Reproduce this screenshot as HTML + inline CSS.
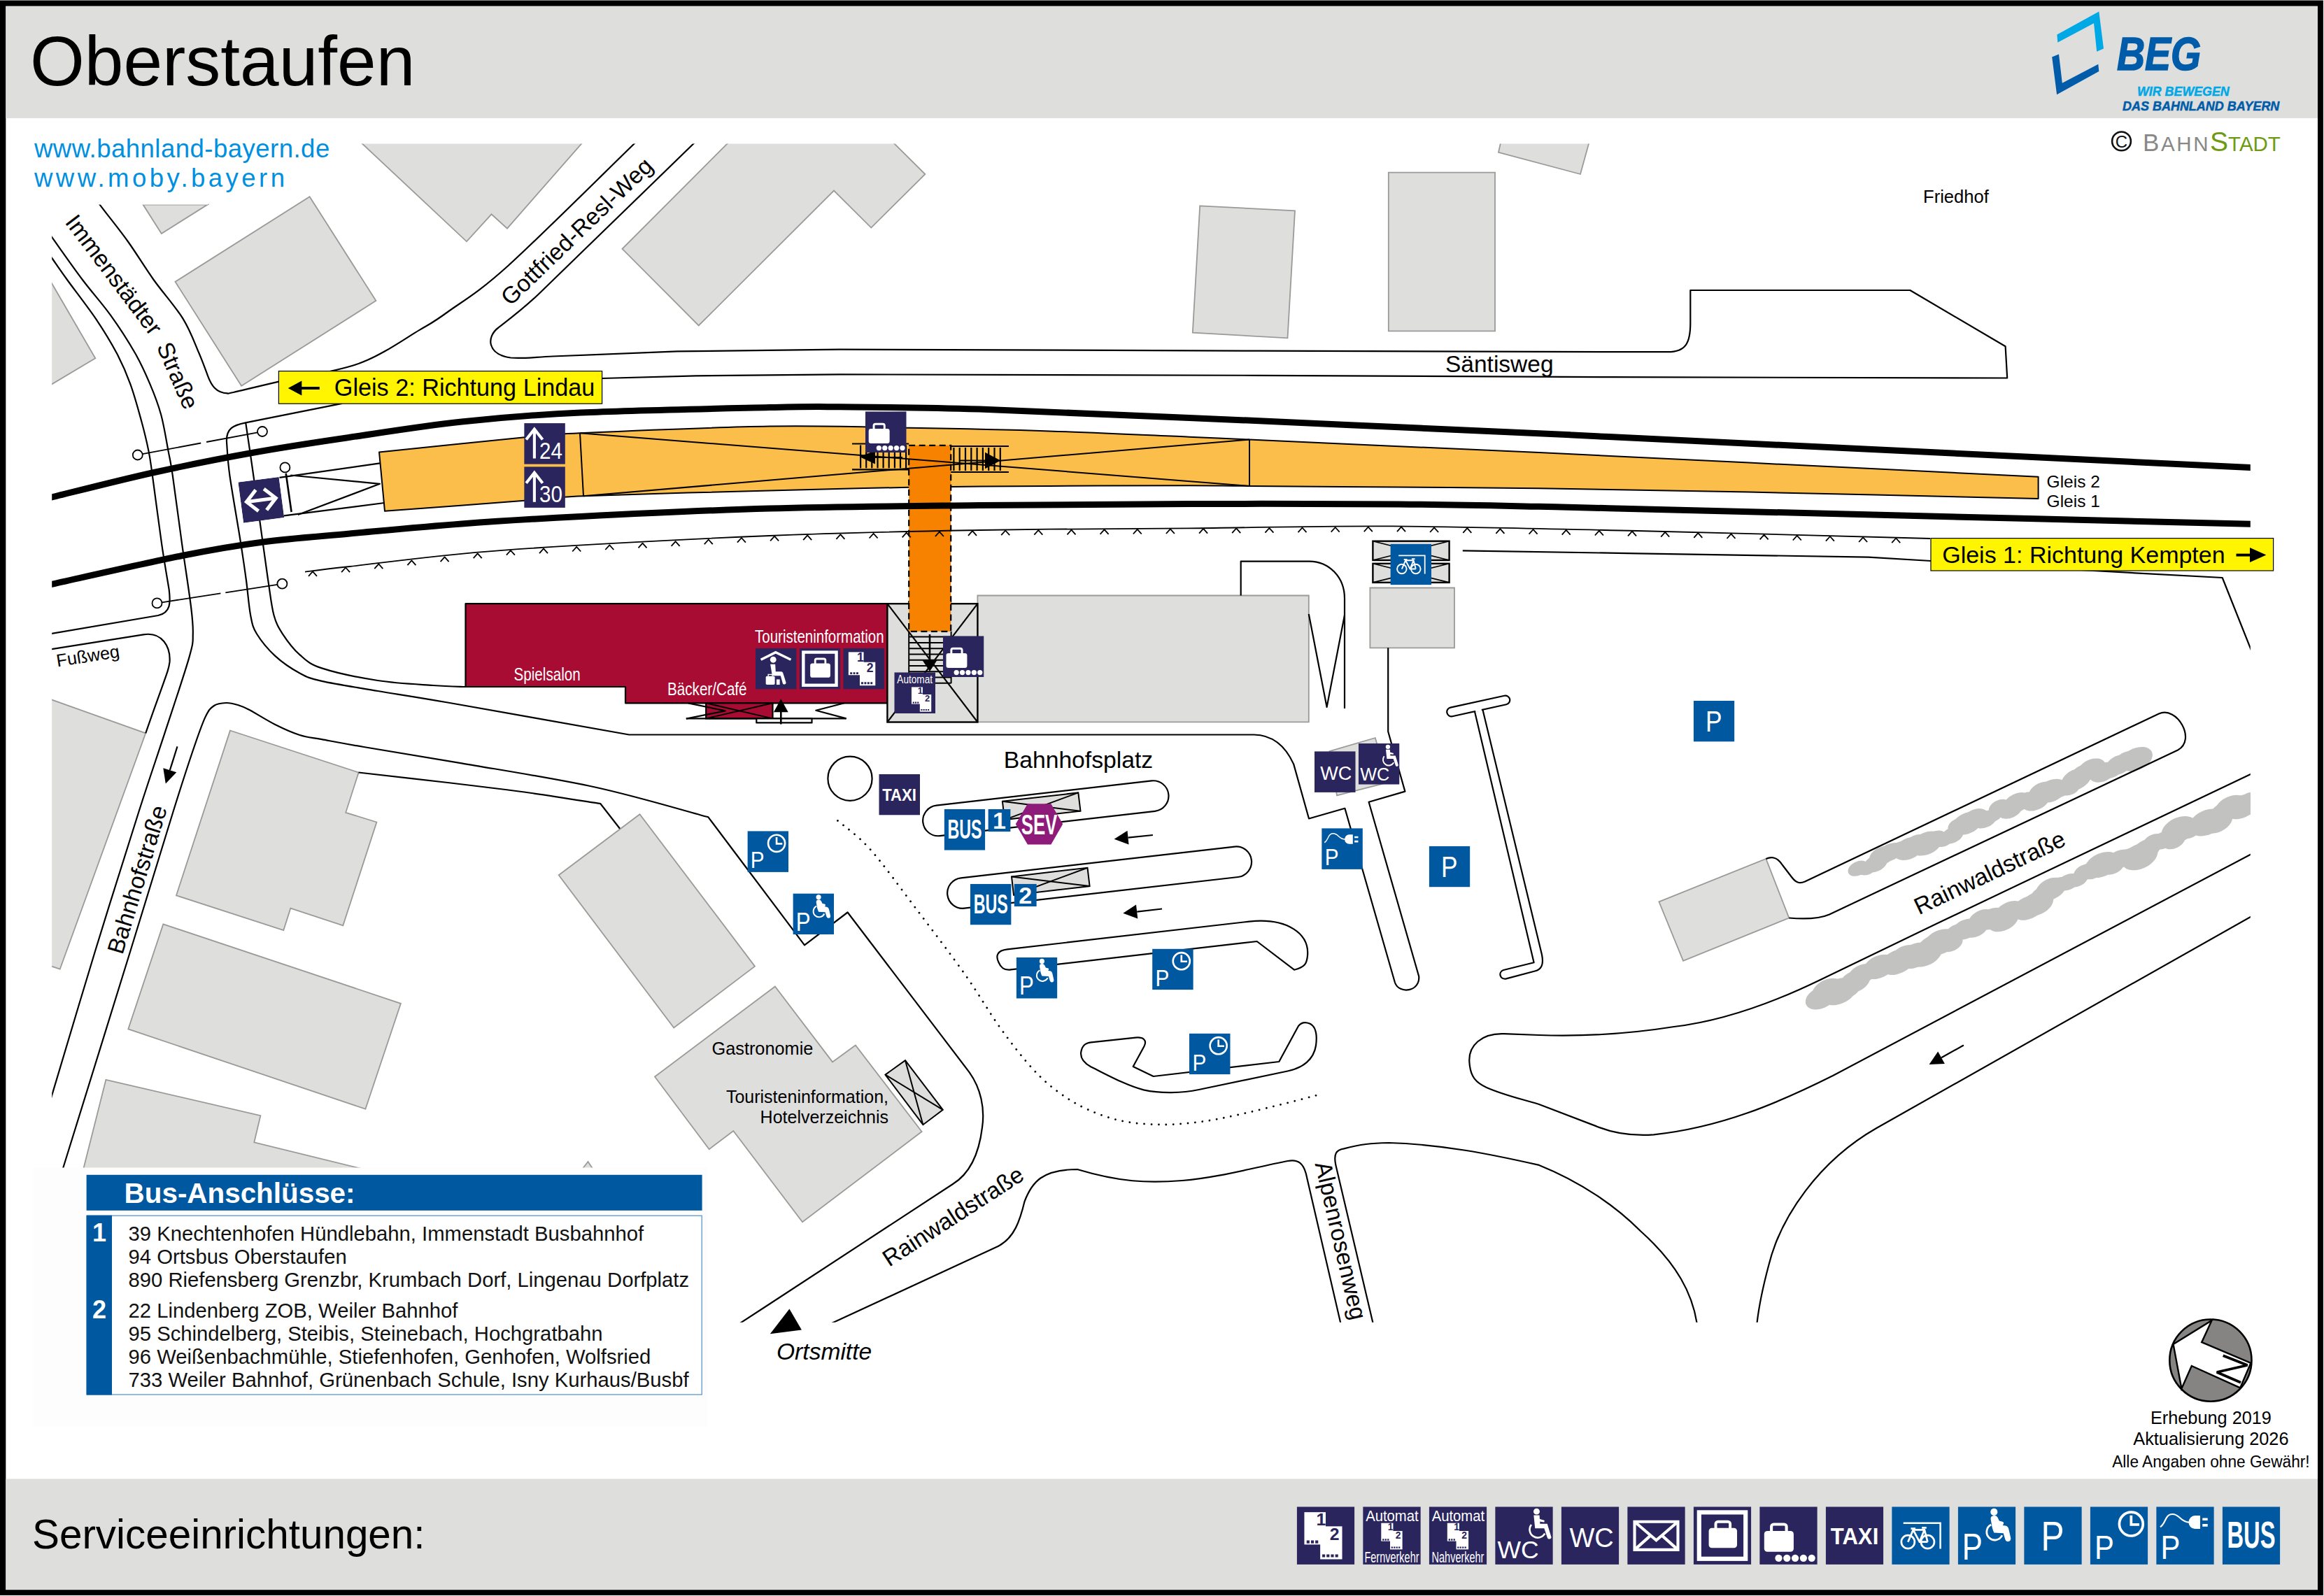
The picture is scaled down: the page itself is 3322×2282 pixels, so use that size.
<!DOCTYPE html>
<html><head><meta charset="utf-8"><title>Oberstaufen</title>
<style>
html,body{margin:0;padding:0;background:#fff;}
body{width:3322px;height:2282px;overflow:hidden;}
svg{display:block;font-family:"Liberation Sans",sans-serif;}
.ln{fill:none;stroke:#000;stroke-width:2.2;stroke-linejoin:round;stroke-linecap:butt}
.b{fill:#dededd;stroke:#9a9a98;stroke-width:1.8;stroke-linejoin:miter}
.bk{fill:#dededd;stroke:#000;stroke-width:2}
.tr{fill:none;stroke:#000;stroke-width:9}
.t{fill:#000}
.w{fill:#fff}
</style></head><body>
<svg width="3322" height="2282" viewBox="0 0 3322 2282">
<!-- defs -->
<defs>
<g id="case"><rect x="0" y="14" width="51" height="36" rx="5.5" fill="#fff"/><path d="M12.5,15 v-8.5 a4,4 0 0 1 4,-4 h18 a4,4 0 0 1 4,4 v8.5" fill="none" stroke="#fff" stroke-width="5"/></g>
<g id="wheel" fill="#fff"><circle cx="13.75" cy="5.3" r="5.4"/><path d="M8.75,11.9 h10 l0.95,14.700 h12.500 l6.8,22.4 q0.8,3 -2.4,3.9 q-3.2,0.8 -4.2,-2.100 l-5.500,-16.4 h-15.8 z"/><path d="M18.75,18.1 l8.750,2.800 l-0.6,3.100 l-8.150,-1.200 z"/><path d="M4.7,28.1 A14,14 0 1 0 28,43.500" fill="none" stroke="#fff" stroke-width="3.2"/></g>
<g id="wheelB" fill="#fff"><circle cx="62.5" cy="9.2" r="6.1"/><path d="M57.5,17.5 Q61,14.5 66.500,16 Q70,19 71.5,24.5 L78,26.3 Q80,27.5 79,30 L77.5,32.3 L82.5,33 Q86.500,33.8 87.8,38.5 L91.5,54.500 Q91.8,59.500 87.5,60.300 Q83.500,60.800 81.800,56.5 L78.7,45.800 L62.500,45 Q60.500,41 59.300,36 L57,23 Q56.300,20 57.5,17.5 Z"/><path d="M57.5,31.2 A14,14 0 1 0 76.5,49.600" fill="none" stroke="#fff" stroke-width="3.4"/></g>
<g id="tix"><rect x="0" y="0" width="37" height="56" fill="#fff"/><rect x="27.5" y="24.5" width="38" height="57" fill="#fff"/>
<text x="29" y="22.5" font-size="30" font-weight="bold" fill="#2b255d" text-anchor="middle">1</text><text x="52.3" y="48.3" font-size="30" font-weight="bold" fill="#2b255d" text-anchor="middle">2</text>
<path d="M4,49 h5 v5 h-5z M11.5,49 h5 v5 h-5z M19,49 h5 v5 h-5z M31,73 h5 v5 h-5z M38.5,73 h5 v5 h-5z M46,73 h5 v5 h-5z M53.500,73 h5 v5 h-5z" fill="#2b255d"/></g>
<symbol id="s-up" viewBox="0 0 100 100"><rect width="100" height="100" fill="#2b255d"/><path d="M25,86 V17 M5,40 L25,14.500 L45,40" fill="none" stroke="#fff" stroke-width="7"/></symbol>
<symbol id="s-dbl" viewBox="0 0 100 100"><rect width="100" height="100" fill="#2b255d"/><path d="M16,50 H84 M40,24 L14,50 L40,76 M60,24 L86,50 L60,76" fill="none" stroke="#fff" stroke-width="8.5"/></symbol>
<symbol id="s-belt" viewBox="0 0 100 100"><rect width="100" height="100" fill="#2b255d"/><use href="#case" x="8" y="28"/><g fill="#fff"><circle cx="33" cy="89" r="6.2"/><circle cx="47.3" cy="89" r="6.2"/><circle cx="61.6" cy="89" r="6.2"/><circle cx="75.9" cy="89" r="6.2"/><circle cx="90.2" cy="89" r="6.2"/></g></symbol>
<symbol id="s-locker" viewBox="0 0 100 100"><rect width="100" height="100" fill="#2b255d"/><rect x="9.8" y="9.800" width="80.4" height="80.4" fill="none" stroke="#fff" stroke-width="7.5"/><g transform="translate(26.5,23.5) scale(0.96)"><use href="#case"/></g></symbol>
<symbol id="s-tix" viewBox="0 0 100 100"><rect width="100" height="100" fill="#2b255d"/><use href="#tix" x="13" y="9.500"/></symbol>
<symbol id="s-auto" viewBox="0 0 100 100"><rect width="100" height="100" fill="#2b255d"/><text x="50" y="27.5" font-size="29" fill="#fff" text-anchor="middle" transform="translate(50,0) scale(0.8,1) translate(-50,0)">Automat</text><g transform="translate(42,36) scale(0.735)"><use href="#tix"/></g></symbol>
<symbol id="s-autoF" viewBox="0 0 100 100"><rect width="100" height="100" fill="#2b255d"/><text x="50.5" y="25" font-size="26" fill="#fff" text-anchor="middle" transform="translate(50,0) scale(0.945,1) translate(-50,0)">Automat</text><g transform="translate(31.6,28.3) scale(0.56)"><use href="#tix"/></g><text x="50" y="97" font-size="26" fill="#fff" text-anchor="middle" transform="translate(50,0) scale(0.675,1) translate(-50,0)">Fernverkehr</text></symbol>
<symbol id="s-autoN" viewBox="0 0 100 100"><rect width="100" height="100" fill="#2b255d"/><text x="50.5" y="25" font-size="26" fill="#fff" text-anchor="middle" transform="translate(50,0) scale(0.945,1) translate(-50,0)">Automat</text><g transform="translate(31.6,28.3) scale(0.56)"><use href="#tix"/></g><text x="50" y="97" font-size="26" fill="#fff" text-anchor="middle" transform="translate(50,0) scale(0.675,1) translate(-50,0)">Nahverkehr</text></symbol>
<symbol id="s-wc" viewBox="0 0 100 100"><rect width="100" height="100" fill="#2b255d"/><text x="52.5" y="69.5" font-size="46" fill="#fff" text-anchor="middle">WC</text></symbol>
<symbol id="s-wcw" viewBox="0 0 100 100"><rect width="100" height="100" fill="#2b255d"/><text x="4" y="89.5" font-size="43" fill="#fff">WC</text><g transform="translate(58,3)"><use href="#wheel"/></g></symbol>
<symbol id="s-mail" viewBox="0 0 100 100"><rect width="100" height="100" fill="#2b255d"/><path d="M12.500,26 H87.5 V74.500 H12.5 Z M12.5,26 L50,58 L87.5,26 M12.5,74.5 L40,50 M87.5,74.5 L60,50" fill="none" stroke="#fff" stroke-width="5"/></symbol>
<symbol id="s-taxi" viewBox="0 0 100 100"><rect width="100" height="100" fill="#2b255d"/><text x="50" y="65.5" font-size="41" font-weight="bold" fill="#fff" text-anchor="middle" transform="translate(50,0) scale(0.92,1) translate(-50,0)">TAXI</text></symbol>
<symbol id="s-bus" viewBox="0 0 100 100"><rect width="100" height="100" fill="#0058a1"/><text x="50" y="71.5" font-size="65" font-weight="bold" fill="#fff" text-anchor="middle" transform="translate(50,0) scale(0.61,1) translate(-50,0)">BUS</text></symbol>
<symbol id="s-p" viewBox="0 0 100 100"><rect width="100" height="100" fill="#0058a1"/><text x="50" y="75.8" font-size="71.5" fill="#fff" text-anchor="middle" transform="translate(49.5,0) scale(0.84,1) translate(-50,0)">P</text></symbol>
<symbol id="s-pclock" viewBox="0 0 100 100"><rect width="100" height="100" fill="#0058a1"/><text font-size="57.500" fill="#fff" transform="translate(7.6,90.800) scale(0.88,1)">P</text><circle cx="71" cy="30" r="20.500" fill="none" stroke="#fff" stroke-width="4.5"/><path d="M71,15 V31 H85" fill="none" stroke="#fff" stroke-width="4.5"/></symbol>
<symbol id="s-pwheel" viewBox="0 0 100 100"><rect width="100" height="100" fill="#0058a1"/><text font-size="64" fill="#fff" transform="translate(7.3,91.100) scale(0.83,1)">P</text><use href="#wheelB"/></symbol>
<symbol id="s-pcharge" viewBox="0 0 100 100"><rect width="100" height="100" fill="#0058a1"/><text font-size="57.500" fill="#fff" transform="translate(7.6,90.800) scale(0.88,1)">P</text><path d="M7,35 C17,29 15,13 28,13 C41,13 42,27 57,27" fill="none" stroke="#fff" stroke-width="2.6"/><path d="M56,27 a11,11.500 0 0 1 11,-11.5 h9 v23 h-9 a11,11.5 0 0 1 -11,-11.5z M80,19.500 h9 v4.500 h-9z M80,30 h9 v4.5 h-9z" fill="#fff"/></symbol>
<symbol id="s-bike" viewBox="0 0 100 100"><rect width="100" height="100" fill="#0058a1"/><path d="M20,28.500 H84 V73" fill="none" stroke="#fff" stroke-width="3"/><g fill="none" stroke="#fff" stroke-width="3.300"><circle cx="28" cy="61" r="11.500"/><circle cx="62" cy="61" r="11.500"/><path d="M28,61 L37,40 H56.500 L62,61 M37,40 L48,61 H62 M48,61 L56.5,40 M33,38 H41 M52,36.500 H60"/></g></symbol>
<symbol id="s-wait" viewBox="0 0 100 100"><rect width="100" height="100" fill="#2b255d"/><path d="M13,28 L49,10 L86,28" fill="none" stroke="#fff" stroke-width="6"/><g fill="#fff"><circle cx="43" cy="28" r="7.500"/><path d="M36,39 h12 l1,18 h13 q4,0 5,4 l7,22 q1,4 -3,5 q-4,1 -5,-3 l-5,-18 h-17 q-4,0 -4,-4 z"/><rect x="25" y="68" width="22" height="21" rx="3"/><path d="M31,68 v-4 h10 v4" fill="none" stroke="#fff" stroke-width="2.5"/><rect x="51" y="76" width="8" height="13"/></g></symbol>
<symbol id="s-n" viewBox="0 0 100 100"><rect width="100" height="100" fill="#0058a1"/></symbol>
</defs>

<!-- frame -->
<rect x="0" y="0" width="3322" height="2282" fill="#000"/>
<rect x="0" y="0" width="3322" height="1" fill="#8a8a8a"/>
<rect x="3320.9" y="0" width="1.1" height="2282" fill="#f0f0f0"/>
<rect x="0" y="2280.9" width="3322" height="1.1" fill="#f0f0f0"/>
<rect x="8.3" y="8.8" width="3304.7" height="2264.3" fill="#fff"/>
<rect x="8.3" y="8.8" width="3304.7" height="160.2" fill="#dededd"/>
<rect x="8.3" y="2114.5" width="3304.7" height="158.6" fill="#dededd"/>
<text x="43" y="122" font-size="100" class="t">Oberstaufen</text>
<text x="46" y="2214" font-size="58.4" class="t">Serviceeinrichtungen:</text>

<!-- map -->
<defs><clipPath id="mapclip"><rect x="74.2" y="205.5" width="3142.6" height="1685.3"/></clipPath></defs>
<g clip-path="url(#mapclip)">
<polygon class="b" points="204.5,292.6 296.6,292.6 230.8,334.0" />
<polygon class="b" points="60.0,381.0 136.3,512.3 60.0,557.7" />
<polygon class="b" points="442.6,281.3 537.4,430.0 345.1,551.8 250.5,402.8" />
<polygon class="b" points="512.0,200.0 667.0,345.3 702.5,306.3 725.0,326.6 836.0,200.0" />
<polygon class="b" points="1045.0,200.0 889.5,355.8 998.7,465.5 1192.0,272.5 1245.3,325.6 1322.4,249.0 1273.0,200.0" />
<polygon class="b" points="1715.2,294.3 1851.0,301.4 1840.5,483.3 1704.8,475.7" />
<polygon class="b" points="1984.8,246.7 2137.0,246.7 2137.0,473.3 1984.8,473.3" />
<polygon class="b" points="2146.0,200.0 2142.0,217.8 2259.0,249.0 2272.5,200.0" />
<polygon class="b" points="60.0,995.5 208.2,1048.4 85.7,1385.7 60.0,1377.0" />
<polygon class="b" points="329.0,1044.5 512.6,1104.5 494.2,1161.8 538.4,1175.5 490.3,1323.4 415.3,1298.7 405.3,1330.0 252.0,1280.3" />
<polygon class="b" points="233.3,1321.4 572.9,1434.8 522.4,1585.7 183.3,1471.4" />
<polygon class="b" points="151.4,1543.8 372.4,1595.2 363.3,1633.3 545.0,1678.0 545.0,1700.0 112.0,1700.0" />
<polygon class="b" points="840.5,1661.0 860.0,1690.0 818.0,1690.0" />
<polygon class="b" points="914.5,1164.2 798.7,1251.3 963.2,1469.5 1079.0,1381.6" />
<polygon class="b" points="1107.9,1410.5 1190.0,1518.4 1222.9,1494.5 1317.6,1618.0 1147.0,1747.3 1048.3,1617.0 1013.7,1643.2 936.0,1539.5" />
<polygon class="b" points="2371.4,1289.3 2524.4,1228.0 2557.3,1312.5 2406.0,1373.8" />
<polygon class="b" points="1397.4,851.5 1870.8,851.5 1870.8,1032.3 1397.4,1032.3" />
<polygon class="b" points="1958.4,840.5 2079.0,840.5 2079.0,926.3 1958.4,926.3" />
<polygon class="b" points="1900.5,1074.2 1965.8,1055.0 1984.5,1118.5 1911.0,1137.4" />
<g fill="#c2c2c0"><ellipse cx="2656.1" cy="1241.7" rx="15.4" ry="9.9" transform="rotate(-25 2656.1 1241.7)"/><ellipse cx="2669.8" cy="1241.0" rx="14.6" ry="9.3" transform="rotate(-25 2669.8 1241.0)"/><ellipse cx="2681.1" cy="1234.6" rx="17.9" ry="11.4" transform="rotate(-25 2681.1 1234.6)"/><ellipse cx="2690.5" cy="1223.5" rx="19.5" ry="12.5" transform="rotate(-25 2690.5 1223.5)"/><ellipse cx="2702.4" cy="1218.3" rx="18.6" ry="11.9" transform="rotate(-25 2702.4 1218.3)"/><ellipse cx="2714.6" cy="1213.7" rx="14.8" ry="9.5" transform="rotate(-25 2714.6 1213.7)"/><ellipse cx="2728.4" cy="1213.4" rx="23.1" ry="14.8" transform="rotate(-25 2728.4 1213.4)"/><ellipse cx="2738.8" cy="1204.6" rx="16.3" ry="10.4" transform="rotate(-25 2738.8 1204.6)"/><ellipse cx="2753.4" cy="1206.1" rx="24.4" ry="15.6" transform="rotate(-25 2753.4 1206.1)"/><ellipse cx="2765.1" cy="1200.5" rx="18.2" ry="11.7" transform="rotate(-25 2765.1 1200.5)"/><ellipse cx="2779.2" cy="1200.8" rx="14.3" ry="9.1" transform="rotate(-25 2779.2 1200.8)"/><ellipse cx="2790.6" cy="1194.3" rx="17.0" ry="10.9" transform="rotate(-25 2790.6 1194.3)"/><ellipse cx="2798.7" cy="1180.1" rx="15.1" ry="9.6" transform="rotate(-25 2798.7 1180.1)"/><ellipse cx="2811.6" cy="1177.3" rx="22.9" ry="14.7" transform="rotate(-25 2811.6 1177.3)"/><ellipse cx="2822.9" cy="1170.7" rx="20.3" ry="13.0" transform="rotate(-25 2822.9 1170.7)"/><ellipse cx="2837.3" cy="1171.7" rx="17.9" ry="11.5" transform="rotate(-25 2837.3 1171.7)"/><ellipse cx="2848.8" cy="1165.6" rx="14.5" ry="9.3" transform="rotate(-25 2848.8 1165.6)"/><ellipse cx="2858.1" cy="1154.3" rx="16.1" ry="10.3" transform="rotate(-25 2858.1 1154.3)"/><ellipse cx="2873.4" cy="1157.4" rx="18.6" ry="11.9" transform="rotate(-25 2873.4 1157.4)"/><ellipse cx="2883.4" cy="1147.7" rx="20.3" ry="13.0" transform="rotate(-25 2883.4 1147.7)"/><ellipse cx="2896.1" cy="1144.6" rx="17.1" ry="11.0" transform="rotate(-25 2896.1 1144.6)"/><ellipse cx="2909.9" cy="1144.1" rx="21.6" ry="13.8" transform="rotate(-25 2909.9 1144.1)"/><ellipse cx="2919.0" cy="1132.0" rx="20.2" ry="12.9" transform="rotate(-25 2919.0 1132.0)"/><ellipse cx="2932.4" cy="1130.7" rx="23.6" ry="15.1" transform="rotate(-25 2932.4 1130.7)"/><ellipse cx="2945.5" cy="1128.4" rx="17.0" ry="10.9" transform="rotate(-25 2945.5 1128.4)"/><ellipse cx="2958.8" cy="1126.7" rx="15.1" ry="9.7" transform="rotate(-25 2958.8 1126.7)"/><ellipse cx="2967.8" cy="1114.5" rx="22.3" ry="14.3" transform="rotate(-25 2967.8 1114.5)"/><ellipse cx="2978.3" cy="1106.1" rx="19.3" ry="12.3" transform="rotate(-25 2978.3 1106.1)"/><ellipse cx="2989.7" cy="1099.7" rx="21.3" ry="13.6" transform="rotate(-25 2989.7 1099.7)"/><ellipse cx="3005.5" cy="1104.2" rx="20.2" ry="12.9" transform="rotate(-25 3005.5 1104.2)"/><ellipse cx="3018.1" cy="1100.7" rx="17.3" ry="11.1" transform="rotate(-25 3018.1 1100.7)"/><ellipse cx="3029.1" cy="1093.4" rx="20.4" ry="13.1" transform="rotate(-25 3029.1 1093.4)"/><ellipse cx="3040.5" cy="1087.0" rx="18.9" ry="12.1" transform="rotate(-25 3040.5 1087.0)"/><ellipse cx="3053.8" cy="1085.4" rx="24.4" ry="15.6" transform="rotate(-25 3053.8 1085.4)"/></g>
<g fill="#c2c2c0"><ellipse cx="2602.8" cy="1426.7" rx="23.3" ry="14.9" transform="rotate(-25 2602.8 1426.7)"/><ellipse cx="2612.7" cy="1415.8" rx="23.8" ry="15.2" transform="rotate(-25 2612.7 1415.8)"/><ellipse cx="2628.4" cy="1417.7" rx="27.4" ry="17.5" transform="rotate(-25 2628.4 1417.7)"/><ellipse cx="2641.6" cy="1414.3" rx="18.6" ry="11.9" transform="rotate(-25 2641.6 1414.3)"/><ellipse cx="2651.4" cy="1403.2" rx="23.4" ry="14.9" transform="rotate(-25 2651.4 1403.2)"/><ellipse cx="2661.5" cy="1393.0" rx="20.8" ry="13.3" transform="rotate(-25 2661.5 1393.0)"/><ellipse cx="2674.6" cy="1389.2" rx="16.5" ry="10.5" transform="rotate(-25 2674.6 1389.2)"/><ellipse cx="2686.2" cy="1382.3" rx="24.6" ry="15.7" transform="rotate(-25 2686.2 1382.3)"/><ellipse cx="2698.9" cy="1377.6" rx="18.1" ry="11.6" transform="rotate(-25 2698.9 1377.6)"/><ellipse cx="2712.7" cy="1375.3" rx="25.9" ry="16.6" transform="rotate(-25 2712.7 1375.3)"/><ellipse cx="2723.1" cy="1365.8" rx="20.6" ry="13.2" transform="rotate(-25 2723.1 1365.8)"/><ellipse cx="2738.1" cy="1366.2" rx="26.0" ry="16.7" transform="rotate(-25 2738.1 1366.2)"/><ellipse cx="2751.9" cy="1364.0" rx="25.8" ry="16.5" transform="rotate(-25 2751.9 1364.0)"/><ellipse cx="2761.0" cy="1351.5" rx="20.2" ry="12.9" transform="rotate(-25 2761.0 1351.5)"/><ellipse cx="2773.7" cy="1347.0" rx="26.1" ry="16.7" transform="rotate(-25 2773.7 1347.0)"/><ellipse cx="2789.5" cy="1349.0" rx="16.9" ry="10.8" transform="rotate(-25 2789.5 1349.0)"/><ellipse cx="2797.2" cy="1333.5" rx="17.9" ry="11.5" transform="rotate(-25 2797.2 1333.5)"/><ellipse cx="2809.8" cy="1328.6" rx="21.1" ry="13.5" transform="rotate(-25 2809.8 1328.6)"/><ellipse cx="2824.1" cy="1327.5" rx="18.3" ry="11.7" transform="rotate(-25 2824.1 1327.5)"/><ellipse cx="2833.0" cy="1314.5" rx="20.2" ry="13.0" transform="rotate(-25 2833.0 1314.5)"/><ellipse cx="2847.3" cy="1313.6" rx="22.1" ry="14.1" transform="rotate(-25 2847.3 1313.6)"/><ellipse cx="2863.0" cy="1315.4" rx="23.6" ry="15.1" transform="rotate(-25 2863.0 1315.4)"/><ellipse cx="2872.7" cy="1304.3" rx="22.7" ry="14.5" transform="rotate(-25 2872.7 1304.3)"/><ellipse cx="2885.9" cy="1300.7" rx="15.7" ry="10.0" transform="rotate(-25 2885.9 1300.7)"/><ellipse cx="2899.4" cy="1298.0" rx="24.7" ry="15.8" transform="rotate(-25 2899.4 1298.0)"/><ellipse cx="2911.5" cy="1292.1" rx="25.0" ry="16.0" transform="rotate(-25 2911.5 1292.1)"/><ellipse cx="2921.0" cy="1280.3" rx="20.0" ry="12.8" transform="rotate(-25 2921.0 1280.3)"/><ellipse cx="2931.6" cy="1271.1" rx="22.9" ry="14.7" transform="rotate(-25 2931.6 1271.1)"/><ellipse cx="2943.6" cy="1265.0" rx="15.8" ry="10.1" transform="rotate(-25 2943.6 1265.0)"/><ellipse cx="2956.7" cy="1261.2" rx="17.0" ry="10.9" transform="rotate(-25 2956.7 1261.2)"/><ellipse cx="2969.7" cy="1257.3" rx="15.7" ry="10.0" transform="rotate(-25 2969.7 1257.3)"/><ellipse cx="2980.0" cy="1247.4" rx="16.9" ry="10.8" transform="rotate(-25 2980.0 1247.4)"/><ellipse cx="2992.8" cy="1243.1" rx="19.5" ry="12.5" transform="rotate(-25 2992.8 1243.1)"/><ellipse cx="3004.7" cy="1236.5" rx="25.9" ry="16.6" transform="rotate(-25 3004.7 1236.5)"/><ellipse cx="3020.3" cy="1238.5" rx="16.9" ry="10.8" transform="rotate(-25 3020.3 1238.5)"/><ellipse cx="3030.5" cy="1228.3" rx="19.3" ry="12.4" transform="rotate(-25 3030.5 1228.3)"/><ellipse cx="3043.4" cy="1224.1" rx="16.5" ry="10.6" transform="rotate(-25 3043.4 1224.1)"/><ellipse cx="3058.5" cy="1224.7" rx="27.4" ry="17.5" transform="rotate(-25 3058.5 1224.7)"/><ellipse cx="3068.5" cy="1214.2" rx="21.0" ry="13.5" transform="rotate(-25 3068.5 1214.2)"/><ellipse cx="3078.5" cy="1203.8" rx="16.3" ry="10.4" transform="rotate(-25 3078.5 1203.8)"/><ellipse cx="3092.3" cy="1201.5" rx="18.3" ry="11.7" transform="rotate(-25 3092.3 1201.5)"/><ellipse cx="3107.4" cy="1202.1" rx="17.0" ry="10.9" transform="rotate(-25 3107.4 1202.1)"/><ellipse cx="3114.9" cy="1186.2" rx="26.9" ry="17.2" transform="rotate(-25 3114.9 1186.2)"/><ellipse cx="3130.1" cy="1187.1" rx="16.8" ry="10.8" transform="rotate(-25 3130.1 1187.1)"/><ellipse cx="3142.5" cy="1181.7" rx="15.3" ry="9.8" transform="rotate(-25 3142.5 1181.7)"/><ellipse cx="3154.6" cy="1175.9" rx="27.2" ry="17.4" transform="rotate(-25 3154.6 1175.9)"/><ellipse cx="3168.8" cy="1174.6" rx="23.7" ry="15.2" transform="rotate(-25 3168.8 1174.6)"/><ellipse cx="3177.6" cy="1161.3" rx="19.6" ry="12.5" transform="rotate(-25 3177.6 1161.3)"/><ellipse cx="3189.3" cy="1154.5" rx="24.6" ry="15.8" transform="rotate(-25 3189.3 1154.5)"/><ellipse cx="3203.7" cy="1153.6" rx="24.7" ry="15.8" transform="rotate(-25 3203.7 1153.6)"/><ellipse cx="3214.8" cy="1145.4" rx="17.8" ry="11.4" transform="rotate(-25 3214.8 1145.4)"/><ellipse cx="3229.8" cy="1146.0" rx="27.3" ry="17.5" transform="rotate(-25 3229.8 1146.0)"/></g>
<path class="ln" d="M104.0,240.0 C110.4,248.8 129.4,275.0 142.6,292.6 C155.8,310.2 170.2,327.6 183.0,345.5 C195.8,363.4 206.5,381.6 219.6,400.0 C232.7,418.4 251.0,438.6 261.8,456.1 C272.6,473.7 278.8,491.9 284.6,505.3 C290.4,518.8 294.8,531.5 296.8,536.8 C302,551 309,562 325,562.3  C326.4,562.1 321.4,563.8 333.7,561.0 C346.0,558.2 368.6,552.5 398.6,545.6 C428.6,538.7 480.1,531.8 513.7,519.5 C547.3,507.2 579.0,483.9 600.0,471.6 C621.0,459.4 619.0,461.3 640.0,446.0 C661.0,430.7 681.9,420.1 726.3,380.0 C770.7,339.9 872.6,238.3 906.6,205.5 C940.6,172.7 926.1,186.8 930.0,183.0" />
<path class="ln" d="M1015,183 L991.3,205.5 L768.4,422 C745,444 722,461 713,468 C694,482 697,507 730,511.5 C745,513 760,511 790,509.5 L968.4,502.4 L1200,499.6 L1800,501.6 L2300,503.2 L2384,503.2 C2410,503 2416.3,490 2416.3,462 L2416.3,415 L2730.3,415 L2866.6,495.3 L2869.2,540.5 L2300,539.2 L1800,536.8 L1200,535.3 L994.7,537.4 L860.5,541" />
<path class="ln" d="M60.0,349.0 C62.4,352.3 68.2,360.5 74.2,369.0 C80.2,377.5 85.5,385.5 96.0,400.0 C106.5,414.5 125.4,438.6 137.2,456.1 C149.0,473.7 158.8,489.8 167.0,505.3 C175.2,520.8 180.5,533.0 186.3,549.1 C192.2,565.2 197.7,585.7 202.1,601.8 C206.5,617.9 210.0,632.6 212.6,645.6 C215.2,658.6 214.8,658.1 217.9,680.0 C221.0,701.9 227.1,749.7 231.0,776.8 C234.9,803.9 239.8,831.6 241.6,842.6 C244,862 244,876 226,880 L74,905.8 L60,908" />
<path class="ln" d="M60.0,319.0 C62.4,322.4 64.5,325.7 74.2,339.2 C83.9,352.7 103.9,381.4 117.9,400.0 C131.9,418.6 145.6,433.3 158.2,450.9 C170.8,468.4 183.9,488.9 193.3,505.3 C202.7,521.7 208.2,534.5 214.4,549.1 C220.6,563.7 225.8,576.9 230.2,593.0 C234.6,609.1 237.9,631.1 240.7,645.6 C243.5,660.1 243.6,658.1 246.8,680.0 C250.0,701.9 255.6,745.3 260.0,776.8 C264.4,808.3 270.6,847.4 273.2,869.0 C275.8,890.6 276.2,894.5 275.8,906.3 C275.4,918.1 277.2,915.9 270.5,939.6 C263.8,963.3 247.4,1011.7 235.4,1048.4 C223.4,1085.1 215.2,1108.1 198.6,1160.0 C182.0,1211.9 156.8,1292.2 136.0,1360.0 C115.2,1427.8 90.0,1514.0 74.0,1566.7 C58.0,1619.4 45.7,1657.8 40.0,1676.0" />
<path class="ln" d="M60,930.5 L74,928.2 L205,907.3 C232,903 244,925 242.5,946.7 C241,960 236,968 208.2,1048.4" />
<path class="ln" d="M489,576.8 L351.2,604.4 C333,608 323,613 324,632  C324.7,640.0 325.0,655.9 328.4,680.0 C331.8,704.1 340.3,751.8 344.2,776.8 C348.1,801.8 349.7,812.8 352.0,830.0 C354.3,847.2 355.7,867.3 358.2,880.0 C360.7,892.7 361.1,896.6 367.0,906.3 C372.9,915.9 383.1,928.5 393.3,937.9 C403.5,947.3 417.3,956.5 428.4,962.5 C439.5,968.5 441.4,969.6 460.0,973.9 C478.6,978.1 510.0,982.9 540.0,988.0 C570.0,993.1 580.1,994.1 640.0,1004.5 C699.9,1014.9 856.0,1042.8 899.2,1050.5 L1792.6,1050.5 C1820,1051 1838,1068 1849.2,1092.6 L1871,1170.5 L1922.4,1155.8 L1994,1405 C2000,1422 2030,1418 2028.2,1396 L1956.6,1146.8 L2008.4,1131.6 L1984.2,1046 L1984.2,926.3" />
<path class="ln" d="M351.2,604.4 C352.1,610.3 354.6,627.4 356.5,640.0 C358.4,652.6 359.1,657.2 362.3,680.0 C365.5,702.8 372.2,751.0 375.8,776.8 C379.4,802.6 381.4,817.8 384.0,835.0 C386.6,852.2 388.3,868.1 391.6,880.0 C394.9,891.9 397.8,896.9 403.9,906.3 C410.0,915.6 419.0,927.9 428.4,936.1 C437.8,944.3 441.4,949.2 460.0,955.4 C478.6,961.5 513.5,968.9 540.0,973.0 C566.5,977.1 598.1,978.5 619.0,980.0 C639.9,981.5 657.8,981.7 665.5,982.0" />
<path class="ln" d="M60.0,1767.0 C65.1,1750.7 69.5,1736.8 90.5,1669.0 C111.5,1601.2 160.1,1444.8 186.3,1360.0 C212.5,1275.2 232.8,1207.8 247.7,1160.0 C262.6,1112.2 268.2,1095.4 275.8,1073.0 C283.4,1050.6 288.3,1036.3 293.3,1025.6 C298.3,1014.9 301.0,1012.4 306.0,1009.0 C311.0,1005.6 317.5,1005.2 323.2,1005.0 C328.9,1004.8 334.4,1006.3 340.0,1008.0 C345.6,1009.7 347.6,1010.3 356.5,1015.0 C365.4,1019.7 381.3,1030.0 393.3,1036.0 C405.3,1042.0 417.3,1047.5 428.4,1051.0 C439.5,1054.5 444.7,1054.4 460.0,1057.2 C475.3,1060.0 486.7,1062.3 520.0,1068.0 C553.3,1073.7 604.9,1081.7 660.0,1091.3 C715.1,1100.9 791.8,1112.7 850.5,1125.5 C909.2,1138.3 985.4,1161.2 1012.4,1168.4 L1066.3,1240 L1150,1351.3 L1211.6,1304.5 L1385.7,1533.3 C1402,1556 1408,1585 1404,1612 C1400,1645 1388,1677 1362,1693 L1100,1864.5 L1040,1903.6" />
<path class="ln" d="M512.6,1104.5 C533.8,1106.9 598.8,1114.1 640.0,1119.0 C681.2,1123.9 723.6,1129.0 760.0,1134.0 C796.4,1139.0 842.0,1146.7 858.4,1149.2 L886,1184.7" />
<path class="ln" d="M2090.8,787.4 L2340,791.3 L2670.7,796.6 L2760,802 L2991.8,816 L3176.7,826 L3230,960" />
<path class="ln" d="M1773.7,851.5 L1773.7,802.6 L1871.6,802.6 C1900,803 1922,825 1922,855.8 L1922,1013" />
<path class="ln" d="M1870.8,878 L1896.6,1011 L1922,879.5" />
<path class="ln" d="M2107.9,1017 L2192.6,1376.3 L2149.2,1387 C2141,1390 2144,1401 2153,1399.4 L2194,1388.5 C2203,1386 2207,1380 2204,1365 L2119,1013" />
<path class="ln" style="fill:#fff" d="M2076.1,1024.2 L2153.2,1007.3 A6.4,6.4 0 0 0 2150.4,994.7 L2073.3,1011.6 A6.4,6.4 0 0 0 2076.1,1024.2 Z"/>
<path d="M2109.2,1016.7 L2117.8,1014.8" stroke="#fff" stroke-width="3.4" fill="none"/>
<path class="ln" d="M2524.4,1228 C2535,1223 2542,1228 2548,1237 L2561,1254 C2567,1262 2572,1264 2580,1260.5 L3086,1020.5 C3112,1009 3140,1058 3113,1072.5 L2615,1307.4 C2600,1314 2580,1314.5 2557.3,1312.5" />
<path class="ln" d="M3230,1100.5 L3217,1107 L2769.7,1320 L2603,1400.4 C2530,1436 2460,1460 2393,1468 C2330,1478 2260,1482 2200,1480 L2150,1478.2 C2118,1477 2098,1495 2100.5,1520 C2102,1540 2110,1548 2125,1555 C2150,1566 2170,1570 2200,1579 L2282,1610.4 C2310,1622 2340,1624 2364,1622.4 C2460,1612 2540,1578 2620,1538 L3217,1221.7 L3230,1215" />
<path class="ln" d="M3230,1304 L3217,1311 L2682.8,1612.8 C2600,1660 2545,1740 2528,1810 C2520,1840 2513,1870 2510.4,1903" />
<path class="ln" d="M1965.2,1903 L1909.4,1666 C1906,1650 1910,1644 1921.2,1642.4 C1945,1636 1960,1634.5 1985,1634 C2060,1636 2130,1650 2200,1665.9 C2260,1690 2310,1725 2344.8,1760 C2395,1805 2422,1850 2427,1903" />
<path class="ln" d="M1165,1903 L1426.6,1782 C1450,1770 1458,1745 1464.5,1718 C1475,1690 1490,1672 1540,1672 C1600,1690 1640,1692 1690,1688 C1740,1684 1790,1670 1840.8,1660 C1856,1657 1863,1664 1866.8,1678 L1918.9,1903" />
<path class="ln" d="M1343.5,1195.1 L1651.1,1159.8 A21.8,21.8 0 0 0 1646.1,1116.4 L1338.5,1151.7 A21.8,21.8 0 0 0 1343.5,1195.1 Z" />
<path class="ln" d="M1378.5,1298.7 L1769.7,1254.0 A21.8,21.8 0 0 0 1764.7,1210.6 L1373.5,1255.3 A21.8,21.8 0 0 0 1378.5,1298.7 Z" />
<polygon class="bk" points="1432.9,1145.8 1541.3,1133.4 1544.5,1159.7 1436.0,1172.1" style="stroke-width:2"/>
<polyline class="ln" points="1432.9,1145.8 1544.5,1159.7" style="stroke-width:2"/>
<polyline class="ln" points="1541.3,1133.4 1436.0,1172.1" style="stroke-width:2"/>
<polygon class="bk" points="1446.0,1253.4 1554.5,1240.8 1557.6,1267.0 1449.0,1279.7" style="stroke-width:2"/>
<polyline class="ln" points="1446.0,1253.4 1557.6,1267.0" style="stroke-width:2"/>
<polyline class="ln" points="1554.5,1240.8 1449.0,1279.7" style="stroke-width:2"/>
<polygon class="bk" points="1265.5,1536.6 1294.0,1516.2 1347.8,1586.8 1319.4,1608.2" style="stroke-width:2"/>
<polyline class="ln" points="1265.5,1536.6 1347.8,1586.8" style="stroke-width:2"/>
<polyline class="ln" points="1294.0,1516.2 1319.4,1608.2" style="stroke-width:2"/>
<path class="ln" d="M1440,1357.4 L1785.7,1317.6 C1840,1312 1872,1335 1869,1366.7 C1868,1378 1865,1383 1850,1386.7 L1796.7,1346 L1445,1386.4 C1434,1388 1430,1382 1427.5,1376 C1423,1367 1425,1359 1440,1357.4 Z" />
<path class="ln" d="M1559.7,1490.4 L1623,1483.6 C1634,1482.5 1640,1487 1635.5,1496 L1619.7,1525 L1648.7,1539 L1828.3,1518 L1856,1467 C1860,1462 1866,1461 1872,1463.5 C1882,1468 1883,1480 1881,1495 C1878,1515 1862,1527 1840.5,1531.5 L1713.7,1558 C1690,1563 1660,1564 1634.7,1558.4 C1610,1552 1585,1538 1559.7,1525.5 C1548,1519 1544,1512 1545.3,1504 C1547,1495 1551,1491.5 1559.7,1490.4 Z" />
<circle class="ln" cx="1215" cy="1113.2" r="31.6"/>
<path class="ln" d="M1197.4,1173.4 C1205.2,1180.2 1225.2,1193.4 1244.0,1214.5 C1262.8,1235.6 1287.4,1270.2 1310.0,1300.0 C1332.6,1329.8 1359.5,1365.1 1379.5,1393.4 C1399.5,1421.7 1413.8,1447.4 1430.0,1470.0 C1446.2,1492.6 1462.6,1513.5 1476.8,1529.0 C1491.0,1544.5 1501.8,1553.4 1515.0,1563.0 C1528.2,1572.6 1540.8,1580.1 1555.8,1586.8 C1570.8,1593.5 1587.5,1599.5 1605.0,1603.0 C1622.5,1606.5 1642.7,1607.8 1661.0,1608.0 C1679.3,1608.2 1697.5,1606.2 1715.0,1604.0 C1732.5,1601.8 1745.9,1599.1 1766.3,1594.7 C1786.7,1590.3 1817.9,1582.4 1837.4,1577.6 C1856.9,1572.8 1875.7,1567.7 1883.3,1565.7" style="stroke-width:2.8;stroke-dasharray:0.01 10.4;stroke-linecap:round"/>
<rect class="bk" x="1962.4" y="773.7" width="109.19999999999982" height="27.299999999999955" style="stroke-width:2.4"/>
<polyline class="ln" points="1962.4,773.7 2071.6,801.0" style="stroke-width:1.6"/>
<polyline class="ln" points="2071.6,773.7 1962.4,801.0" style="stroke-width:1.6"/>
<rect class="bk" x="1962.4" y="805.8" width="109.19999999999982" height="27.100000000000023" style="stroke-width:2.4"/>
<polyline class="ln" points="1962.4,805.8 2071.6,832.9" style="stroke-width:1.6"/>
<polyline class="ln" points="2071.6,805.8 1962.4,832.9" style="stroke-width:1.6"/>
<path class="ln" d="M542.0,646.5 C576.7,643.0 702.2,629.8 750.0,625.3 C797.8,620.8 770.7,621.8 829.0,619.2 C887.3,616.6 1021.5,610.8 1100.0,609.6 C1178.5,608.4 1233.3,610.7 1300.0,611.8 C1366.7,612.9 1433.3,614.2 1500.0,616.4 C1566.7,618.5 1652.3,622.7 1700.0,624.7 C1747.7,626.7 1736.0,626.4 1786.0,628.6 C1836.0,630.9 1931.0,635.1 2000.0,638.2 C2069.0,641.3 2116.7,643.2 2200.0,647.1 C2283.3,651.0 2381.1,655.8 2500.0,661.6 C2618.9,667.4 2844.7,678.4 2913.6,681.7 L2913.6,713  C2844.7,711.4 2618.9,706.0 2500.0,703.5 C2381.1,701.0 2283.3,699.4 2200.0,698.2 C2116.7,697.1 2069.0,697.2 2000.0,696.6 C1931.0,696.0 1836.0,695.3 1786.0,694.9 C1736.0,694.5 1747.7,694.2 1700.0,694.2 C1652.3,694.2 1566.7,694.6 1500.0,695.0 C1433.3,695.4 1366.7,695.7 1300.0,696.8 C1233.3,697.9 1177.7,699.4 1100.0,701.5 C1022.3,703.6 892.3,706.8 834.0,709.2 C775.7,711.6 797.3,712.2 750.0,715.8 C702.7,719.4 583.3,728.3 550.0,730.8 Z" style="fill:#fcbe4b;stroke-width:2"/>
<polyline class="ln" points="829.0,619.2 834.0,709.2" style="stroke-width:2"/>
<polyline class="ln" points="1786.0,628.6 1786.0,694.9" style="stroke-width:2"/>
<polyline class="ln" points="399.5,682.8 542.9,662.4" />
<polyline class="ln" points="406.0,737.4 549.5,719.0" />
<polyline class="ln" points="415.3,679.5 542.9,691.8 425.8,736.0" />
<polyline class="ln" points="408.7,676.8 416.6,732.0" style="stroke-width:2.6"/>
<rect x="1299.2" y="636.8" width="60" height="266" fill="#f78200"/>
<polyline class="ln" points="829.0,619.2 1786.0,694.9" style="stroke-width:2"/>
<polyline class="ln" points="834.0,709.2 1786.0,628.6" style="stroke-width:2"/>
<polyline class="ln" points="1218.0,634.5 1299.2,634.5" style="stroke-width:2.2"/>
<polyline class="ln" points="1218.0,671.3 1299.2,671.3" style="stroke-width:2.2"/>
<polyline class="ln" points="1230.1,636.5 1230.1,669.3" style="stroke-width:2.2"/>
<polyline class="ln" points="1238.2,636.5 1238.2,669.3" style="stroke-width:2.2"/>
<polyline class="ln" points="1246.3,636.5 1246.3,669.3" style="stroke-width:2.2"/>
<polyline class="ln" points="1254.5,636.5 1254.5,669.3" style="stroke-width:2.2"/>
<polyline class="ln" points="1262.6,636.5 1262.6,669.3" style="stroke-width:2.2"/>
<polyline class="ln" points="1270.7,636.5 1270.7,669.3" style="stroke-width:2.2"/>
<polyline class="ln" points="1278.9,636.5 1278.9,669.3" style="stroke-width:2.2"/>
<polyline class="ln" points="1287.0,636.5 1287.0,669.3" style="stroke-width:2.2"/>
<polyline class="ln" points="1295.1,636.5 1295.1,669.3" style="stroke-width:2.2"/>
<g transform="translate(2660,0) scale(-1,1)">
<polyline class="ln" points="1218.0,638.0 1300.8,638.0" style="stroke-width:2.2"/>
<polyline class="ln" points="1218.0,675.0 1300.8,675.0" style="stroke-width:2.2"/>
<polyline class="ln" points="1230.2,640.0 1230.2,673.0" style="stroke-width:2.2"/>
<polyline class="ln" points="1238.5,640.0 1238.5,673.0" style="stroke-width:2.2"/>
<polyline class="ln" points="1246.8,640.0 1246.8,673.0" style="stroke-width:2.2"/>
<polyline class="ln" points="1255.1,640.0 1255.1,673.0" style="stroke-width:2.2"/>
<polyline class="ln" points="1263.4,640.0 1263.4,673.0" style="stroke-width:2.2"/>
<polyline class="ln" points="1271.7,640.0 1271.7,673.0" style="stroke-width:2.2"/>
<polyline class="ln" points="1280.0,640.0 1280.0,673.0" style="stroke-width:2.2"/>
<polyline class="ln" points="1288.3,640.0 1288.3,673.0" style="stroke-width:2.2"/>
<polyline class="ln" points="1296.6,640.0 1296.6,673.0" style="stroke-width:2.2"/>
</g>
<path d="M1231,653 l19,-7 l0,16 z M1250,654 l40,0" fill="#000" stroke="#000" stroke-width="2"/>
<path d="M1428,658.5 l-19,-10 l0,20 z M1409,658.5 l-38,0" fill="#000" stroke="#000" stroke-width="2"/>
<path class="tr" d="M60.0,714.5 C62.3,713.9 47.7,717.4 74.0,711.0 C100.3,704.6 169.8,686.7 218.0,676.0 C266.2,665.3 316.0,655.5 363.0,647.0 C410.0,638.5 450.5,632.6 500.0,625.3 C549.5,618.0 605.0,608.9 660.0,603.0 C715.0,597.1 756.7,593.4 830.0,590.0 C903.3,586.6 1038.3,584.0 1100.0,582.6 C1161.7,581.2 1150.0,581.4 1200.0,581.8 C1250.0,582.2 1316.7,582.4 1400.0,585.0 C1483.3,587.6 1566.7,591.6 1700.0,597.4 C1833.3,603.2 2100.0,615.3 2200.0,619.8 C2300.0,624.3 2183.3,619.0 2300.0,624.6 C2416.7,630.2 2747.2,645.9 2900.0,653.2 C3052.8,660.5 3162.0,665.9 3217.0,668.6 C3272.0,671.3 3227.8,669.1 3230.0,669.2" />
<path class="tr" d="M60.0,838.5 C62.3,838.0 40.2,842.7 74.0,835.3 C107.8,827.9 212.7,804.0 263.0,794.0 C313.3,784.0 336.5,780.2 376.0,775.0 C415.5,769.8 452.7,767.3 500.0,763.0 C547.3,758.7 605.0,753.1 660.0,749.0 C715.0,744.9 756.7,742.2 830.0,738.5 C903.3,734.8 1005.0,729.7 1100.0,727.0 C1195.0,724.3 1300.0,723.6 1400.0,722.5 C1500.0,721.4 1600.0,720.8 1700.0,720.5 C1800.0,720.2 1916.7,720.4 2000.0,721.0 C2083.3,721.6 2150.0,723.3 2200.0,724.3 C2250.0,725.2 2183.3,723.8 2300.0,726.7 C2416.7,729.6 2747.2,737.7 2900.0,741.5 C3052.8,745.3 3162.0,747.9 3217.0,749.3 C3272.0,750.6 3227.8,749.5 3230.0,749.6" />
<rect x="1299.2" y="636.8" width="60" height="266" fill="none" stroke="#000" stroke-width="2.2" stroke-dasharray="9 5.5"/>
<path class="ln" d="M436.0,817.6 C446.7,816.3 453.0,815.1 500.0,810.0 C547.0,804.9 618.0,794.1 718.0,786.8 C818.0,779.5 986.3,770.8 1100.0,766.0 C1213.7,761.2 1300.0,759.8 1400.0,758.0 C1500.0,756.2 1601.7,756.2 1700.0,755.3 C1798.3,754.4 1883.3,751.8 1990.0,752.4 C2096.7,753.0 2211.8,756.1 2340.0,759.0 C2468.2,761.9 2689.2,768.2 2759.0,770.0" style="stroke-width:1.8"/>
<path class="ln" d="M441.0,823.8 L447.0,817.1 L453.0,823.8 M488.1,818.2 L494.1,811.5 L500.1,818.2 M535.3,813.1 L541.3,806.4 L547.3,813.1 M582.4,808.1 L588.4,801.4 L594.4,808.1 M629.6,803.1 L635.6,796.4 L641.6,803.1 M676.7,798.1 L682.7,791.4 L688.7,798.1 M723.9,793.7 L729.9,787.0 L735.9,793.7 M771.0,791.1 L777.0,784.4 L783.0,791.1 M818.2,788.5 L824.2,781.8 L830.2,788.5 M865.3,786.0 L871.3,779.3 L877.3,786.0 M912.5,783.4 L918.5,776.7 L924.5,783.4 M959.6,780.8 L965.6,774.1 L971.6,780.8 M1006.8,778.2 L1012.8,771.5 L1018.8,778.2 M1053.9,775.7 L1059.9,769.0 L1065.9,775.7 M1101.1,773.3 L1107.1,766.6 L1113.1,773.3 M1148.2,772.1 L1154.2,765.4 L1160.2,772.1 M1195.4,770.8 L1201.4,764.1 L1207.4,770.8 M1242.6,769.5 L1248.6,762.8 L1254.6,769.5 M1289.7,768.3 L1295.7,761.6 L1301.7,768.3 M1336.9,767.0 L1342.9,760.3 L1348.9,767.0 M1384.0,765.8 L1390.0,759.1 L1396.0,765.8 M1431.2,765.2 L1437.2,758.5 L1443.2,765.2 M1478.3,764.7 L1484.3,758.0 L1490.3,764.7 M1525.5,764.3 L1531.5,757.6 L1537.5,764.3 M1572.6,763.9 L1578.6,757.2 L1584.6,763.9 M1619.8,763.5 L1625.8,756.8 L1631.8,763.5 M1666.9,763.0 L1672.9,756.3 L1678.9,763.0 M1714.1,762.6 L1720.1,755.9 L1726.1,762.6 M1761.2,762.1 L1767.2,755.4 L1773.2,762.1 M1808.4,761.7 L1814.4,755.0 L1820.4,761.7 M1855.5,761.2 L1861.5,754.5 L1867.5,761.2 M1902.7,760.7 L1908.7,754.0 L1914.7,760.7 M1949.8,760.2 L1955.8,753.5 L1961.8,760.2 M1997.0,760.1 L2003.0,753.4 L2009.0,760.1 M2044.1,761.0 L2050.1,754.3 L2056.1,761.0 M2091.3,761.9 L2097.3,755.2 L2103.3,761.9 M2138.4,762.8 L2144.4,756.1 L2150.4,762.8 M2185.6,763.7 L2191.6,757.0 L2197.6,763.7 M2232.7,764.6 L2238.7,757.9 L2244.7,764.6 M2279.9,765.5 L2285.9,758.8 L2291.9,765.5 M2327.0,766.4 L2333.0,759.7 L2339.0,766.4 M2374.2,767.6 L2380.2,760.9 L2386.2,767.6 M2421.3,768.8 L2427.3,762.1 L2433.3,768.8 M2468.5,770.0 L2474.5,763.3 L2480.5,770.0 M2515.6,771.3 L2521.6,764.6 L2527.6,771.3 M2562.8,772.5 L2568.8,765.8 L2574.8,772.5 M2609.9,773.7 L2615.9,767.0 L2621.9,773.7 M2657.1,775.0 L2663.1,768.3 L2669.1,775.0 M2704.2,776.2 L2710.2,769.5 L2716.2,776.2 " style="stroke-width:1.8"/>
<polyline class="ln" points="203.7,649.2 287.2,633.5" style="stroke-width:1.8"/>
<polyline class="ln" points="295.1,632.0 368.1,618.3" style="stroke-width:1.8"/>
<circle class="ln" cx="196.8" cy="650.5" r="7" style="stroke-width:1.8;fill:#fff"/><circle class="ln" cx="375" cy="617" r="7" style="stroke-width:1.8;fill:#fff"/>
<polyline class="ln" points="231.4,861.3 315.4,848.3" style="stroke-width:1.8"/>
<polyline class="ln" points="322.3,847.3 396.5,835.8" style="stroke-width:1.8"/>
<circle class="ln" cx="224.5" cy="862.4" r="7" style="stroke-width:1.8;fill:#fff"/><circle class="ln" cx="403.4" cy="834.7" r="7" style="stroke-width:1.8;fill:#fff"/>
<circle class="ln" cx="407.4" cy="668.4" r="7" style="stroke-width:1.8;fill:#fff"/>
<polygon class="ln" points="665.5,863.2 1268.4,863.2 1268.4,1005.3 894.0,1005.3 894.0,982.0 665.5,982.0" style="fill:#a80c33;stroke-width:2.2"/>
<rect x="1009.2" y="1005.3" width="95.3" height="22.1" fill="#a80c33" stroke="#000" stroke-width="2.2"/>
<polyline class="ln" points="980.8,1027.4 1209.7,1027.4" />
<polyline class="ln" points="983.8,1005.3 1036.7,1016.4 980.9,1027.6" />
<polyline class="ln" points="1009.2,1005.3 1104.5,1027.4" style="stroke-width:2"/>
<polyline class="ln" points="1009.2,1027.4 1104.5,1005.3" style="stroke-width:2"/>
<polyline class="ln" points="1207.0,1005.3 1166.3,1015.8 1209.7,1027.4" />
<rect class="ln" x="1081.3" y="1027.4" width="79.2" height="6" style="fill:#fff"/>
<path d="M1116.3,1035.5 L1116.3,1016" stroke="#000" stroke-width="2.6"/><path d="M1116.3,999.3 l10.4,19 l-20.8,0 z" fill="#000"/>
<rect class="bk" x="1268.4" y="863.2" width="129" height="169.3" style="stroke-width:2.4"/>
<polyline class="ln" points="1268.4,863.2 1397.4,1032.5" />
<polyline class="ln" points="1397.4,863.2 1268.4,1032.5" />
<rect x="1299.2" y="860" width="60" height="42.8" fill="#f78200"/>
<path class="ln" d="M1299.2,862 L1299.2,902.8 L1359.2,902.8 L1359.2,862" style="stroke-dasharray:9 5.5"/>
<path class="ln" d="M1299.2,910.6 L1359.6,910.6 M1299.2,918.9 L1359.6,918.9 M1299.2,927.2 L1359.6,927.2 M1299.2,935.4 L1359.6,935.4 M1299.2,943.7 L1359.6,943.7 M1299.2,952.0 L1359.6,952.0 M1299.2,960.3 L1359.6,960.3 M1299.2,968.6 L1359.6,968.6 M1299.2,976.8 L1359.6,976.8 M1299.2,902.8 L1299.2,977 M1359.6,902.8 L1359.6,977" style="stroke-width:2"/>
<path d="M1329,907 L1329,945" stroke="#000" stroke-width="2.6"/><path d="M1329,960 l-10.8,-16.6 l21.6,0 z" fill="#000"/>
<path d="M1647.9,1194.0 L1612.5,1197.6" stroke="#000" stroke-width="2.2" fill="none"/><polygon points="1592.6,1199.7 1611.5,1187.7 1613.5,1207.6" fill="#000"/>
<path d="M1661.0,1299.5 L1625.2,1303.6" stroke="#000" stroke-width="2.2" fill="none"/><polygon points="1605.3,1305.8 1624.0,1293.6 1626.3,1313.5" fill="#000"/>
<path d="M253.5,1067.4 L242.8,1101.3" stroke="#000" stroke-width="2.2" fill="none"/><polygon points="236.8,1120.4 233.3,1098.3 252.3,1104.3" fill="#000"/>
<path d="M2806.9,1494.5 L2775.1,1512.3" stroke="#000" stroke-width="2.2" fill="none"/><polygon points="2757.6,1522.0 2770.2,1503.5 2779.9,1521.0" fill="#000"/>
</g>
<rect x="60" y="200" width="237" height="92.6" fill="#fff"/>
<polygon points="1100.8,1907.2 1145.9,1901.5 1128.4,1871.4" fill="#000"/>
<!-- signs -->
<use href="#s-up" x="749.2" y="605.1" width="58.7" height="58.7"/>
<text font-size="34" fill="#fff" transform="translate(771,655.5) scale(0.87,1)">24</text>
<use href="#s-up" x="749.2" y="667.2" width="58.7" height="58.7"/>
<text font-size="34" fill="#fff" transform="translate(771,717.6) scale(0.87,1)">30</text>
<use href="#s-dbl" x="344" y="685.5" width="58.7" height="58.7" transform="rotate(-7.5 373.4 714.9)"/>
<use href="#s-belt" x="1237" y="588.3" width="58.7" height="58.7"/>
<use href="#s-belt" x="1347.8" y="909.3" width="58.7" height="58.7"/>
<use href="#s-auto" x="1278.3" y="961.3" width="58.7" height="58.7"/>
<use href="#s-wait" x="1080" y="926.8" width="58.7" height="58.7"/>
<use href="#s-locker" x="1142.6" y="926.8" width="58.7" height="58.7"/>
<use href="#s-tix" x="1205.2" y="926.8" width="58.7" height="58.7"/>
<use href="#s-taxi" x="1256.3" y="1106.9" width="58.7" height="58.7"/>
<use href="#s-bus" x="1349.6" y="1157" width="58.7" height="58.7"/>
<use href="#s-n" x="1412.4" y="1157" width="32.2" height="32.2"/>
<use href="#s-bus" x="1386.9" y="1263.8" width="58.7" height="58.7"/>
<use href="#s-n" x="1449.6" y="1263.8" width="32.2" height="32.2"/>
<text x="1428.5" y="1185" font-size="34" font-weight="bold" fill="#fff" text-anchor="middle">1</text>
<text x="1465.7" y="1292" font-size="34" font-weight="bold" fill="#fff" text-anchor="middle">2</text>
<polygon points="1451.8,1178.3 1468.9,1149.2 1502.4,1149.2 1519.2,1178.3 1502.4,1207.5 1468.900,1207.5" fill="#8e1b7a"/>
<text x="1485.5" y="1193.5" font-size="41" font-weight="bold" fill="#fff" text-anchor="middle" transform="translate(1485.5,0) scale(0.63,1) translate(-1485.5,0)">SEV</text>
<use href="#s-wc" x="1879" y="1074.2" width="58.7" height="58.7"/>
<use href="#s-wcw" x="1941.8" y="1063" width="58.7" height="58.7"/>
<use href="#s-bike" x="1987.4" y="777.7" width="58.7" height="58.7"/>
<use href="#s-pclock" x="1068.4" y="1188.2" width="58.7" height="58.7"/>
<use href="#s-pwheel" x="1133.4" y="1277.4" width="58.7" height="58.7"/>
<use href="#s-pwheel" x="1452.7" y="1369" width="58.7" height="58.7"/>
<use href="#s-pclock" x="1647.1" y="1356.6" width="58.7" height="58.7"/>
<use href="#s-pclock" x="1700" y="1477.6" width="58.7" height="58.7"/>
<use href="#s-pcharge" x="1889.2" y="1184.2" width="58.7" height="58.7"/>
<use href="#s-p" x="2042.7" y="1209.7" width="58.7" height="58.7"/>
<use href="#s-p" x="2420.7" y="1001.9" width="58.7" height="58.7"/>
<!-- overlay -->
<text transform="translate(49,225.3)" font-size="36.6" fill="#0090df" letter-spacing="0.45" >www.bahnland-bayern.de</text>
<text transform="translate(49,266.8)" font-size="36.6" fill="#0090df" letter-spacing="4.42" >www.moby.bayern</text>
<rect x="398.4" y="530.6" width="462.2" height="46.6" fill="#fff500" stroke="#000" stroke-width="1.2"/>
<path d="M411.8,555 l19.5,-10.5 l0,21 z" fill="#000"/><path d="M430,555 H456.8" stroke="#000" stroke-width="3.9"/>
<text transform="translate(477.8,565.7)" font-size="34.2" fill="#000" >Gleis 2: Richtung Lindau</text>
<rect x="2760" y="769.6" width="489.6" height="46.4" fill="#fff500" stroke="#000" stroke-width="1.2"/>
<text transform="translate(2776.2,805.4)" font-size="34.0" fill="#000" >Gleis 1: Richtung Kempten</text>
<path d="M3239.4,793.6 l-23.4,-10.5 l0,21 z" fill="#000"/><path d="M3217,793.6 H3196.5" stroke="#000" stroke-width="3.9"/>
<text transform="translate(729.5,438.5) rotate(-44)" font-size="33.5" fill="#000" >Gottfried-Resl-Weg</text>
<text transform="translate(2066,532)" font-size="33.5" fill="#000" >Säntisweg</text>
<text transform="translate(2749,289.7)" font-size="25.6" fill="#000" >Friedhof</text>
<text transform="translate(2925.6,696.6)" font-size="24.5" fill="#000" >Gleis 2</text>
<text transform="translate(2925.6,725)" font-size="24.5" fill="#000" >Gleis 1</text>
<text transform="translate(1434.7,1098)" font-size="33.7" fill="#000" >Bahnhofsplatz</text>
<text transform="translate(92,318) rotate(53)" font-size="33.5" fill="#000" >Immenstädter</text>
<text transform="translate(223.5,495.5) rotate(66.5)" font-size="33.5" fill="#000" >Straße</text>
<text transform="translate(82,953.5) rotate(-9)" font-size="25.2" fill="#000" >Fußweg</text>
<text transform="translate(175,1366) rotate(-73)" font-size="33.5" fill="#000" >Bahnhofstraße</text>
<text transform="translate(2743,1308.5) rotate(-25.4)" font-size="33.8" fill="#000" >Rainwaldstraße</text>
<text transform="translate(1271,1812) rotate(-33)" font-size="33.5" fill="#000" >Rainwaldstraße</text>
<text transform="translate(1879.5,1664) rotate(77)" font-size="33.5" fill="#000" >Alpenrosenweg</text>
<text transform="translate(1110,1943.6)" font-size="33.6" fill="#000" font-style="italic" >Ortsmitte</text>
<text transform="translate(1017.5,1507.6)" font-size="25.3" fill="#000" >Gastronomie</text>
<text transform="translate(1270,1576.8)" font-size="25.0" fill="#000" text-anchor="end" >Touristeninformation,</text>
<text transform="translate(1270,1605.8)" font-size="25.0" fill="#000" text-anchor="end" >Hotelverzeichnis</text>
<text transform="translate(1079,919) scale(0.805,1)" font-size="25.5" fill="#fff" >Touristeninformation</text>
<text transform="translate(734.5,973) scale(0.81,1)" font-size="25.5" fill="#fff" >Spielsalon</text>
<text transform="translate(954,993.5) scale(0.81,1)" font-size="25.5" fill="#fff" >Bäcker/Café</text>
<text transform="translate(3160.4,2036.4)" font-size="25.3" fill="#000" text-anchor="middle" >Erhebung 2019</text>
<text transform="translate(3160.4,2065.5)" font-size="25.3" fill="#000" text-anchor="middle" >Aktualisierung 2026</text>
<text transform="translate(3160.4,2097.8) scale(0.93,1)" font-size="24.4" fill="#000" text-anchor="middle" >Alle Angaben ohne Gewähr!</text>
<rect x="47.3" y="1669.5" width="963.7" height="370.5" fill="#fdfdfd"/>
<rect x="123.6" y="1679.8" width="880" height="51" fill="#0058a1"/>
<rect x="124.1" y="1738.2" width="879.1" height="255.8" fill="#fff" stroke="#4d8fc9" stroke-width="1.2"/>
<rect x="123.6" y="1737.7" width="36.4" height="256.8" fill="#0058a1"/>
<text transform="translate(177.6,1719.5)" font-size="40.4" fill="#fff" font-weight="bold" >Bus-Anschlüsse:</text>
<text transform="translate(142,1775)" font-size="36" fill="#fff" text-anchor="middle" font-weight="bold" >1</text>
<text transform="translate(142,1884.7)" font-size="36" fill="#fff" text-anchor="middle" font-weight="bold" >2</text>
<text transform="translate(183.5,1774)" font-size="29.25" fill="#111" >39 Knechtenhofen Hündlebahn, Immenstadt Busbahnhof</text>
<text transform="translate(183.5,1807.1)" font-size="29.25" fill="#111" >94 Ortsbus Oberstaufen</text>
<text transform="translate(183.5,1840.2)" font-size="29.25" fill="#111" >890 Riefensberg Grenzbr, Krumbach Dorf, Lingenau Dorfplatz</text>
<text transform="translate(183.5,1883.8)" font-size="29.25" fill="#111" >22 Lindenberg ZOB, Weiler Bahnhof</text>
<text transform="translate(183.5,1916.9)" font-size="29.25" fill="#111" >95 Schindelberg, Steibis, Steinebach, Hochgratbahn</text>
<text transform="translate(183.5,1950)" font-size="29.25" fill="#111" >96 Weißenbachmühle, Stiefenhofen, Genhofen, Wolfsried</text>
<text transform="translate(183.5,1983.2)" font-size="29.25" fill="#111" >733 Weiler Bahnhof, Grünenbach Schule, Isny Kurhaus/Busbf</text>
<!-- legend -->
<use href="#s-tix" x="1853.7" y="2154.3" width="82.6" height="82.6"/>
<use href="#s-autoF" x="1948.2" y="2154.3" width="82.6" height="82.6"/>
<use href="#s-autoN" x="2042.7" y="2154.3" width="82.6" height="82.6"/>
<use href="#s-wcw" x="2137.2" y="2154.3" width="82.6" height="82.6"/>
<use href="#s-wc" x="2231.7" y="2154.3" width="82.6" height="82.6"/>
<use href="#s-mail" x="2326.2" y="2154.3" width="82.6" height="82.6"/>
<use href="#s-locker" x="2420.7" y="2154.3" width="82.6" height="82.6"/>
<use href="#s-belt" x="2515.2" y="2154.3" width="82.6" height="82.6"/>
<use href="#s-taxi" x="2609.7" y="2154.3" width="82.6" height="82.6"/>
<use href="#s-bike" x="2704.2" y="2154.3" width="82.6" height="82.6"/>
<use href="#s-pwheel" x="2798.7" y="2154.3" width="82.6" height="82.6"/>
<use href="#s-p" x="2893.2" y="2154.3" width="82.6" height="82.6"/>
<use href="#s-pclock" x="2987.7" y="2154.3" width="82.6" height="82.6"/>
<use href="#s-pcharge" x="3082.2" y="2154.3" width="82.6" height="82.6"/>
<use href="#s-bus" x="3176.7" y="2154.3" width="82.6" height="82.6"/>
<circle cx="3159.9" cy="1945.1" r="58.6" fill="#858483" stroke="#000" stroke-width="2.6"/>
<polygon points="3106.6,1922.1 3161.6,1887.9 3147.2,1919.2 3217.4,1948.8 3202.2,1984.4 3132.8,1953 3118.4,1985.5" fill="#fff" stroke="#000" stroke-width="2.4" stroke-linejoin="miter"/>
<polyline points="3177.7,1938.2 3212.5,1952 3168.8,1962 3203,1976.7" fill="none" stroke="#000" stroke-width="3.8" stroke-linejoin="bevel"/>
<polygon points="2940.4,49.6 3000.3,16.5 3007,69.400 2997.2,73.7 2993,33.2 2941.3,60.8" fill="#00a8e6"/>
<polygon points="2933.2,81.4 2943,77.5 2947.8,118.8 2999.3,91.8 3000.3,102.1 2940.1,135.3" fill="#005ca9"/>
<text font-size="66.5" font-weight="bold" font-style="italic" fill="#005ca9" stroke="#005ca9" stroke-width="1.6" transform="translate(3026,99.800) scale(0.835,1)">BEG</text>
<text font-size="18.5" font-weight="bold" font-style="italic" fill="#00a8e6" stroke="#00a8e6" stroke-width="0.5" transform="translate(3055,136.5) scale(0.965,1)">WIR BEWEGEN</text>
<text font-size="18.5" font-weight="bold" font-style="italic" fill="#005ca9" stroke="#005ca9" stroke-width="0.5" transform="translate(3034,157.700) scale(0.972,1)">DAS BAHNLAND BAYERN</text>
<circle cx="3032.5" cy="201.9" r="13.4" fill="none" stroke="#111" stroke-width="2.6"/><text x="3032.500" y="210.5" font-size="24" fill="#111" text-anchor="middle">C</text>
<text x="3063" y="216" font-size="35" fill="#888886" letter-spacing="2.6">B<tspan font-size="29.500">AHN</tspan><tspan fill="#6e9a13" font-size="39" letter-spacing="0">S</tspan><tspan fill="#6e9a13" font-size="29.5" letter-spacing="0">TADT</tspan></text>
</svg>
</body></html>
